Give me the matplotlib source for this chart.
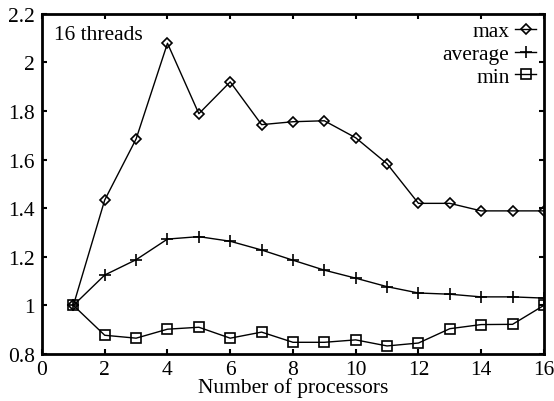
import matplotlib
matplotlib.use('Agg')
import matplotlib.pyplot as plt

# speedup relative to 1 processor, 16 threads
procs = list(range(1, 17))
max_vals = [1.0, 1.434, 1.685, 2.079, 1.789, 1.92, 1.744, 1.756, 1.76, 1.69, 1.583, 1.42, 1.42, 1.389, 1.389, 1.389]
avg_vals = [1.0, 1.125, 1.188, 1.273, 1.283, 1.264, 1.228, 1.186, 1.145, 1.112, 1.077, 1.051, 1.046, 1.035, 1.035, 1.03]
min_vals = [1.0, 0.877, 0.865, 0.902, 0.91, 0.865, 0.89, 0.848, 0.848, 0.858, 0.833, 0.845, 0.904, 0.921, 0.922, 1.0]

xticks = list(range(0, 17, 2))
yticks = [0.8, 1.0, 1.2, 1.4, 1.6, 1.8, 2.0, 2.2]
yticklabels = ['0.8', '1', '1.2', '1.4', '1.6', '1.8', '2', '2.2']

plt.rcParams['font.family'] = 'Liberation Serif'
plt.rcParams['font.size'] = 15.5

fig = plt.figure(figsize=(5.54, 4.02), dpi=100)
ax = fig.add_axes([0.0758, 0.117, 0.906, 0.846])

ax.plot(procs, max_vals, c='k', lw=1.0, marker='D', ms=5, mfc='none', mec='k', mew=1.2, label='max')
ax.plot(procs, avg_vals, c='k', lw=1.0, marker='+', ms=9, mew=1.2, label='average')
ax.plot(procs, min_vals, c='k', lw=1.0, marker='s', ms=7.5, mfc='none', mec='k', mew=1.2, label='min')

ax.set_xlim(0, 16)
ax.set_ylim(0.8, 2.2)
ax.set_xticks(xticks)
ax.set_yticks(yticks)
ax.set_yticklabels(yticklabels)
ax.tick_params(direction='in', top=True, right=True, length=3.5, width=1.5)
ax.tick_params(axis='y', pad=5)
ax.tick_params(axis='x', pad=4)
for s in ax.spines.values():
    s.set_linewidth(2)

ax.set_xlabel('Number of processors')
ax.xaxis.set_label_coords(0.5, -0.068)
ax.text(0.024, 0.94, '16 threads', transform=ax.transAxes, va='center', ha='left')

ax.legend(loc='upper right', markerfirst=False, frameon=False, numpoints=1,
          handlelength=1.0, handletextpad=0.25, labelspacing=0.12,
          borderpad=0.1, borderaxespad=0.25)

fig.savefig('out.png', dpi=100)
